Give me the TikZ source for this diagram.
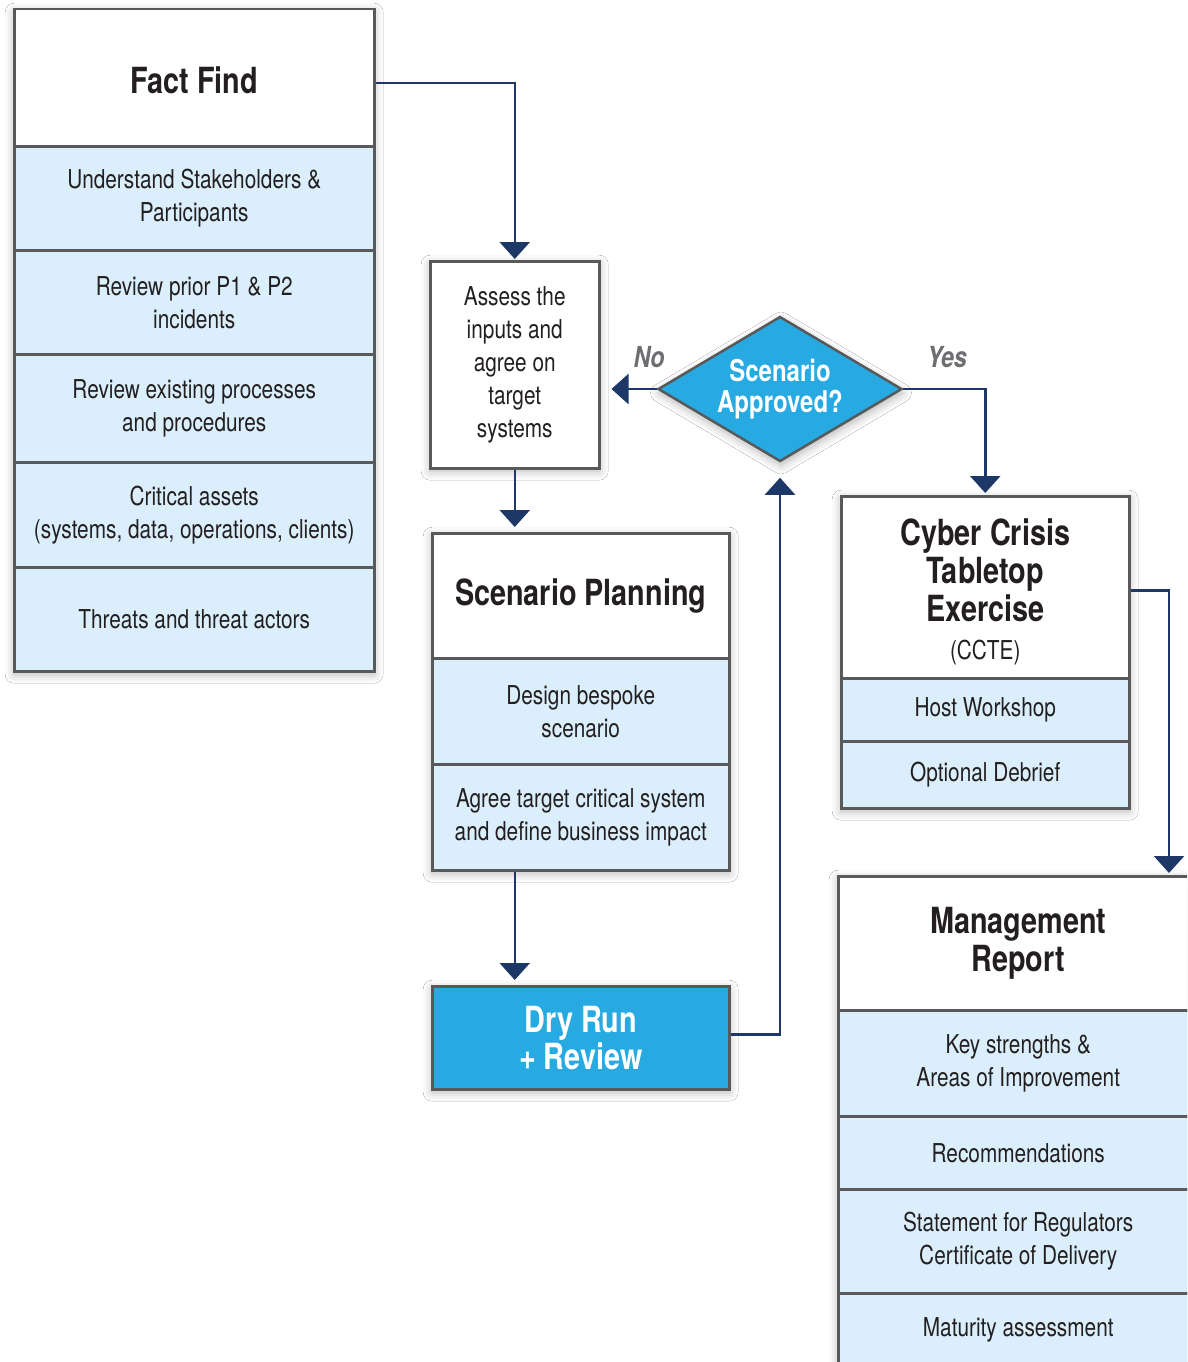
\documentclass[tikz,border=0pt]{standalone}
\usepackage{fontspec}
\setmainfont{TeX Gyre Heros}[FakeStretch=0.8]
\usetikzlibrary{shapes.geometric,arrows.meta,shadows.blur,calc}
\definecolor{navy}{HTML}{1D3767}
\definecolor{bordergray}{HTML}{58595B}
\definecolor{lightblue}{HTML}{DAEEFB}
\definecolor{brightblue}{HTML}{27AAE1}
\definecolor{ink}{HTML}{231F20}
\definecolor{labgray}{HTML}{6D6E71}
\newcommand\bodyfont{\fontsize{26}{33}\selectfont}
\newcommand\titlefont{\bfseries\fontsize{36}{38}\selectfont}
\begin{document}
\begin{tikzpicture}[x=1pt,y=-1pt,
  cell/.style={draw=bordergray, line width=2.5pt, anchor=north west, inner sep=0pt,
    align=center, text=ink, font=\bodyfont},
  head/.style={cell, fill=white, font=\titlefont},
  item/.style={cell, fill=lightblue},
  frame/.style={anchor=north west, inner sep=0pt, fill=white,
    blur shadow={shadow xshift=1pt, shadow yshift=-4pt, shadow blur radius=9pt, shadow opacity=30}},
  arr/.style={draw=navy, line width=2.5pt, -{Triangle[width=30pt,length=17pt]}},
  lab/.style={text=labgray, font=\bfseries\itshape\fontsize{29}{30}\selectfont}]
\clip (0,0) rectangle (1187,1362);
\fill[white] (0,0) rectangle (1187,1362);

% ---------- Fact Find ----------
\node[frame, minimum width=360, minimum height=662] (ffbox) at (13,8) {};
\node[head, minimum width=360, minimum height=137] (ff0) at (13,8) {\rule{0pt}{32pt}Fact Find};
\node[item, minimum width=360, minimum height=104] (ff1) at (13,145) {Understand Stakeholders \&\\Participants};
\node[item, minimum width=360, minimum height=104] (ff2) at (13,249) {Review prior P1 \& P2\\incidents};
\node[item, minimum width=360, minimum height=108] (ff3) at (13,353) {Review existing processes\\and procedures};
\node[item, minimum width=360, minimum height=105] (ff4) at (13,461) {Critical assets\\(systems, data, operations, clients)};
\node[item, minimum width=360, minimum height=104] (ff5) at (13,566) {Threats and threat actors};

% ---------- Assess ----------
\node[frame, minimum width=169, minimum height=207] (assessbox) at (429,260) {};
\node[cell, fill=white, minimum width=169, minimum height=207] (assess) at (429,260)
  {Assess the\\inputs and\\agree on\\target\\systems};

% ---------- Scenario Planning ----------
\node[frame, minimum width=297, minimum height=337] (spbox) at (431,532) {};
\node[head, minimum width=297, minimum height=125] (sp0) at (431,532) {Scenario Planning};
\node[item, minimum width=297, minimum height=106] (sp1) at (431,657) {Design bespoke\\scenario};
\node[item, minimum width=297, minimum height=106] (sp2) at (431,763) {Agree target critical system\\and define business impact};

% ---------- Dry Run ----------
\node[frame, minimum width=297, minimum height=103] (drybox) at (431,985) {};
\node[cell, fill=brightblue, text=white, font=\bfseries\fontsize{36}{37}\selectfont,
  minimum width=297, minimum height=103] (dry) at (431,985) {Dry Run\\+ Review};

% ---------- Decision ----------
\node[diamond, draw=bordergray, line width=2.5pt, fill=brightblue, aspect=1.68, inner sep=0pt,
  minimum width=244, minimum height=145, text=white, align=center,
  font=\bfseries\fontsize{30}{31}\selectfont,
  blur shadow={shadow xshift=1pt, shadow yshift=-4pt, shadow blur radius=9pt, shadow opacity=30}]
  (dia) at (780,389) {Scenario\\Approved?};
\node[lab] (no) at (649,357) {No};
\node[lab] (yes) at (947,357) {Yes};

% ---------- CCTE ----------
\node[frame, minimum width=288, minimum height=312] (ccbox) at (840,495) {};
\node[head, minimum width=288, minimum height=182] (cc0) at (840,495)
  {\rule{0pt}{36pt}Cyber Crisis\\Tabletop\\Exercise\\[0pt]{\bodyfont\mdseries (CCTE)}};
\node[item, minimum width=288, minimum height=63] (cc1) at (840,677) {Host Workshop};
\node[item, minimum width=288, minimum height=67] (cc2) at (840,740) {Optional Debrief};

% ---------- Management Report ----------
\node[frame, minimum width=360, minimum height=500] (mgbox) at (837,875) {};
\node[head, minimum width=360, minimum height=134] (mg0) at (837,875) {Management\\Report};
\node[item, minimum width=360, minimum height=106] (mg1) at (837,1009) {Key strengths \&\\Areas of Improvement};
\node[item, minimum width=360, minimum height=73] (mg2) at (837,1115) {Recommendations};
\node[item, minimum width=360, minimum height=104] (mg3) at (837,1188) {Statement for Regulators\\Certificate of Delivery};
\node[item, minimum width=360, minimum height=73] (mg4) at (837,1292) {Maturity assessment};

% ---------- Connectors ----------
\coordinate (mgin) at (1169,875);
\draw[arr, shorten >=1pt] ($(ff0.east)+(0,5.5)$) -| (assess.north);
\draw[arr, shorten >=5pt] (assess.south) -- (assess.south |- sp0.north);
\draw[arr, shorten >=5pt] (sp2.south -| assess.south) -- (dry.north -| assess.south);
\draw[arr, shorten >=15pt] ($(dry.east)+(0,-3.5)$) -| (dia.south);
\draw[arr, shorten >=11pt] (dia.west) -- (assess.east |- dia.west);
\draw[arr, shorten >=2pt] (dia.east) -| (cc0.north);
\draw[arr, shorten >=2pt] ($(cc0.east)+(0,3)$) -| (mgin);
\end{tikzpicture}
\end{document}
